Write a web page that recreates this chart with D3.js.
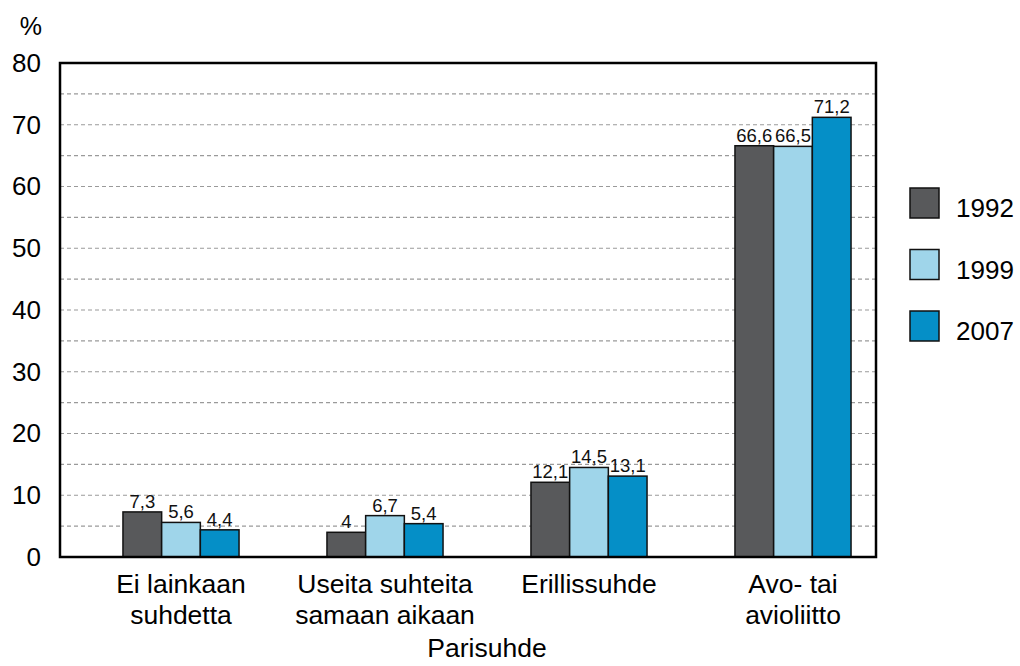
<!DOCTYPE html>
<html>
<head>
<meta charset="utf-8">
<script src="https://cdn.jsdelivr.net/npm/d3@7"></script>
<style>
  html, body { margin: 0; padding: 0; background: #fff; }
  svg { display: block; font-family: "Liberation Sans", Arial, sans-serif; }
</style>
</head>
<body>
<svg id="chart" width="1020" height="666"></svg>
<script>
// Parisuhde by survey year (%)
const categories = [
  ["Ei lainkaan", "suhdetta"],
  ["Useita suhteita", "samaan aikaan"],
  ["Erillissuhde"],
  ["Avo- tai", "avioliitto"]
];
const years = ["1992", "1999", "2007"];
const values1992 = [7.3, 4, 12.1, 66.6];
const values1999 = [5.6, 6.7, 14.5, 66.5];
const values2007 = [4.4, 5.4, 13.1, 71.2];
const yTicks = [0, 10, 20, 30, 40, 50, 60, 70, 80];
const gridValues = [5, 10, 15, 20, 25, 30, 35, 40, 45, 50, 55, 60, 65, 70, 75];
const colors = ["#58595b", "#9fd5ea", "#058fc7"];

const series = [values1992, values1999, values2007];
const catKeys = categories.map(c => c.join(" "));

const svg = d3.select("#chart");
const plot = { left: 60, right: 876, top: 63, bottom: 557 };

const y = d3.scaleLinear().domain([0, 80]).range([plot.bottom, plot.top]);
const x0 = d3.scaleBand().domain(catKeys).range([79, 895])
  .paddingInner(0.431).paddingOuter(0.2155);
const x1 = d3.scaleBand().domain(years).range([0, x0.bandwidth()]);
const color = d3.scaleOrdinal().domain(years).range(colors);

// dashed grid
svg.append("g").selectAll("line").data(gridValues).join("line")
  .attr("x1", plot.left).attr("x2", plot.right)
  .attr("y1", d => y(d)).attr("y2", d => y(d))
  .attr("stroke", "#9a9a9a").attr("stroke-width", 1.2)
  .attr("stroke-dasharray", "4,3");

// bars
const groups = svg.append("g").selectAll("g").data(catKeys).join("g")
  .attr("transform", d => `translate(${x0(d)},0)`);

groups.each(function (cat, ci) {
  const g = d3.select(this);
  const rows = years.map((yr, si) => ({ yr, v: series[si][ci] }));
  g.selectAll("rect").data(rows).join("rect")
    .attr("x", d => x1(d.yr))
    .attr("width", x1.bandwidth())
    .attr("y", d => y(d.v))
    .attr("height", d => y(0) - y(d.v))
    .attr("fill", d => color(d.yr))
    .attr("stroke", "#111").attr("stroke-width", 1.5);
  g.selectAll("text").data(rows).join("text")
    .attr("x", d => x1(d.yr) + x1.bandwidth() / 2)
    .attr("y", d => y(d.v) - 4)
    .attr("text-anchor", "middle")
    .attr("font-size", 18.5)
    .attr("fill", "#111")
    .text(d => String(d.v).replace(".", ","));
});

// frame
svg.append("rect")
  .attr("x", plot.left).attr("y", plot.top)
  .attr("width", plot.right - plot.left).attr("height", plot.bottom - plot.top)
  .attr("fill", "none").attr("stroke", "#000").attr("stroke-width", 2.5);

// y axis
const yAxis = svg.append("g")
  .attr("transform", `translate(${plot.left},0)`)
  .call(d3.axisLeft(y).tickValues(yTicks).tickSize(0).tickPadding(19).tickFormat(d3.format("d")));
yAxis.select(".domain").remove();
yAxis.selectAll("text").attr("font-size", 26).attr("fill", "#000")
  .attr("font-family", "Liberation Sans, Arial, sans-serif");

svg.append("text").attr("x", 42).attr("y", 35).attr("text-anchor", "end")
  .attr("font-size", 25).text("%");

// category labels
const catLabels = svg.append("g").selectAll("text").data(categories).join("text")
  .attr("x", (d, i) => x0(catKeys[i]) + x0.bandwidth() / 2)
  .attr("y", 593)
  .attr("text-anchor", "middle")
  .attr("font-size", 26.5);
catLabels.each(function (lines) {
  d3.select(this).selectAll("tspan").data(lines).join("tspan")
    .attr("x", d3.select(this).attr("x"))
    .attr("dy", (d, i) => i === 0 ? 0 : 31)
    .text(d => d);
});

svg.append("text").attr("x", 487).attr("y", 657).attr("text-anchor", "middle")
  .attr("font-size", 26.5).text("Parisuhde");

// legend
const legend = svg.append("g").selectAll("g").data(years).join("g")
  .attr("transform", (d, i) => `translate(910,${188 + i * 61.5})`);
legend.append("rect").attr("width", 29).attr("height", 30)
  .attr("fill", d => color(d)).attr("stroke", "#111").attr("stroke-width", 1.5);
legend.append("text").attr("x", 46).attr("y", 29)
  .attr("font-size", 26).text(d => d);
</script>
</body>
</html>
